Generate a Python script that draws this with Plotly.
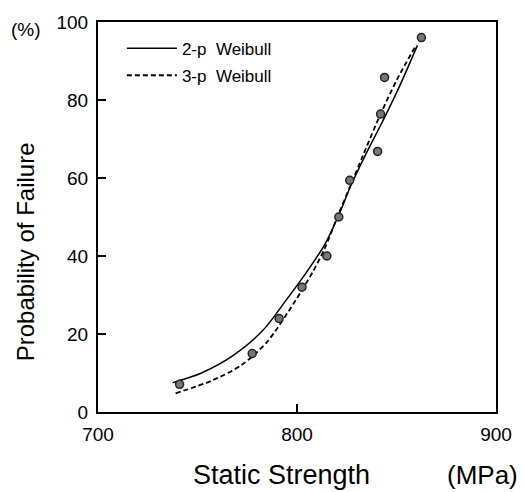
import plotly.graph_objects as go

# Data
strength_pts = [741, 777.5, 791, 802.5, 815, 821, 826.5, 840.5, 842, 844, 862.5]
prob_pts = [7.1, 15, 24, 32, 40, 50, 59.4, 66.8, 76.4, 85.8, 96]

weib2_x = [737.5, 752, 768, 783, 795, 805, 814, 821, 827, 834, 843, 851.5, 860.5]
weib2_y = [7.5, 10, 14.5, 21, 29, 36, 43, 50.5, 58, 65.5, 74.5, 83.5, 94]

weib3_x = [739, 757, 772, 785, 799, 808, 814, 820, 827, 833, 842, 850, 860]
weib3_y = [4.8, 8, 12, 18, 28.4, 36, 42, 49.7, 58.2, 65.6, 76.4, 85, 94.2]

x_ticks = [700, 800, 900]
y_ticks = [0, 20, 40, 60, 80, 100]

FONT = "Liberation Sans, Arial, Helvetica, sans-serif"

fig = go.Figure()
fig.add_trace(go.Scatter(x=weib2_x, y=weib2_y, mode="lines", name="2-p  Weibull",
                         legendgroup="a",
                         line=dict(color="black", width=1.5, shape="spline", smoothing=0.8)))
fig.add_trace(go.Scatter(x=weib3_x, y=weib3_y, mode="lines", name="3-p  Weibull",
                         legendgroup="b",
                         line=dict(color="black", width=1.8, dash="5px,3px", shape="spline", smoothing=0.8)))
fig.add_trace(go.Scatter(x=strength_pts, y=prob_pts, mode="markers", showlegend=False,
                         marker=dict(size=8, color="#777777", line=dict(color="#222222", width=1.5))))

fig.update_layout(
    width=524, height=492,
    margin=dict(l=98, r=25, t=17, b=80),
    paper_bgcolor="white", plot_bgcolor="white",
    font=dict(family=FONT, color="black"),
    showlegend=True,
    legend=dict(x=0.06, y=0.978, xanchor="left", yanchor="top",
                bgcolor="rgba(0,0,0,0)", font=dict(size=17, family=FONT),
                itemwidth=50, tracegroupgap=2),
    xaxis=dict(range=[700, 900], tickvals=x_ticks, ticks="inside", ticklen=8,
               tickwidth=1.5, tickcolor="black", showline=True, linecolor="black",
               linewidth=2, mirror=True, showgrid=False, zeroline=False,
               ticklabelstandoff=4,
               tickfont=dict(size=19, family=FONT)),
    yaxis=dict(range=[0, 100], tickvals=y_ticks, ticks="inside", ticklen=8,
               tickwidth=1.5, tickcolor="black", showline=True, linecolor="black",
               linewidth=2, mirror=True, showgrid=False, zeroline=False,
               ticklabelstandoff=4,
               tickfont=dict(size=19, family=FONT)),
    annotations=[
        dict(text="Static Strength", xref="paper", yref="paper", x=0.46, y=-0.162,
             xanchor="center", yanchor="middle", showarrow=False, font=dict(size=27, family=FONT)),
        dict(text="(MPa)", xref="paper", yref="paper", x=1.06, y=-0.162,
             xanchor="right", yanchor="middle", showarrow=False, font=dict(size=26, family=FONT)),
        dict(text="Probability of Failure", xref="paper", yref="paper", x=-0.183, y=0.41,
             xanchor="center", yanchor="middle", textangle=-90, showarrow=False,
             font=dict(size=24, family=FONT)),
        dict(text="(%)", xref="paper", yref="paper", x=-0.18, y=0.98,
             xanchor="center", yanchor="middle", showarrow=False, font=dict(size=19, family=FONT)),
    ],
)

fig.write_html("out.html", config={"displayModeBar": False},
               post_script="document.body.style.margin='0px';document.body.style.overflow='hidden';")
